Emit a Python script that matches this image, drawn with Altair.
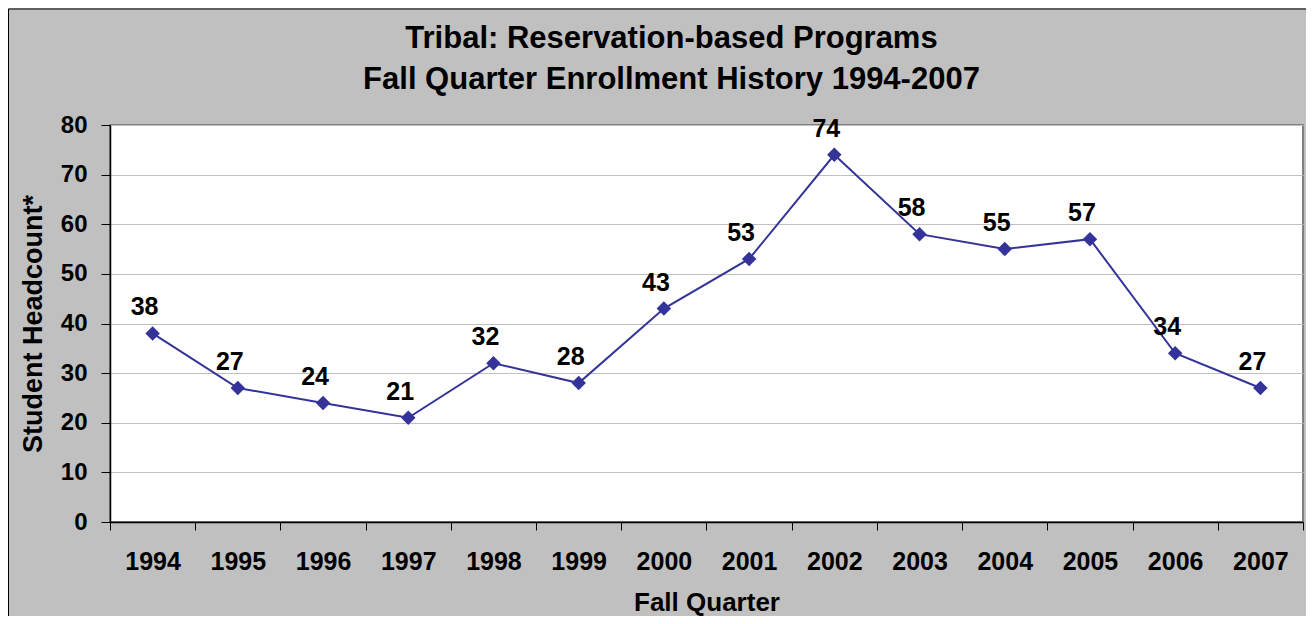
import altair as alt
import pandas as pd

years = ["1994", "1995", "1996", "1997", "1998", "1999", "2000",
         "2001", "2002", "2003", "2004", "2005", "2006", "2007"]
headcount = [38, 27, 24, 21, 32, 28, 43, 53, 74, 58, 55, 57, 34, 27]
y_ticks = [0, 10, 20, 30, 40, 50, 60, 70, 80]
title_lines = ["Tribal: Reservation-based Programs",
               "Fall Quarter Enrollment History 1994-2007"]

df = pd.DataFrame({"Year": years, "Headcount": headcount})

FONT = "Liberation Sans"
LINE_COLOR = "#333399"

base = alt.Chart(df).encode(
    x=alt.X(
        "Year:O",
        sort=years,
        scale=alt.Scale(type="band", paddingInner=0, paddingOuter=0),
        axis=alt.Axis(
            title="Fall Quarter",
            labelAngle=0,
            tickBand="extent",
            grid=False,
            tickSize=8,
            tickColor="black",
            domainColor="black",
            domainWidth=1.5,
            labelPadding=19,
            labelFontSize=25,
            titleFontSize=26,
            titlePadding=15,
        ),
    ),
    y=alt.Y(
        "Headcount:Q",
        scale=alt.Scale(domain=[0, 80], nice=False),
        axis=alt.Axis(
            title="Student Headcount*",
            values=y_ticks,
            grid=True,
            gridColor="#C0C0C0",
            gridWidth=1,
            tickSize=9,
            tickColor="black",
            domainColor="black",
            domainWidth=1.5,
            labelPadding=14,
            labelFontSize=24,
            titleFontSize=27,
            titlePadding=13,
        ),
    ),
)

line = base.mark_line(color=LINE_COLOR, strokeWidth=2)
points = base.mark_point(shape="diamond", filled=True, size=210,
                         color=LINE_COLOR, opacity=1)
labels = base.mark_text(
    dy=-18, dx=-8, baseline="alphabetic", fontSize=25, fontWeight="bold",
    font=FONT, color="black"
).encode(text="Headcount:Q")

frame_df = pd.DataFrame({"k": [0]})
frame = alt.Chart(frame_df).mark_rect(
    fillOpacity=0, stroke="black", strokeWidth=1
).encode(
    x=alt.value(-101.5), x2=alt.value(1250),
    y=alt.value(-116), y2=alt.value(600),
)

chart = alt.layer(frame, line, points, labels).properties(
    width=1193,
    height=397,
    autosize=alt.AutoSizeParams(type="none"),
    padding={"left": 102, "top": 117, "right": 3, "bottom": 94},
    background="#C0C0C0",
    title=alt.TitleParams(
        text=title_lines,
        fontSize=31,
        font=FONT,
        fontWeight="bold",
        color="black",
        anchor="middle",
        dx=-35,
        offset=-87,
        lineHeight=41,
    ),
).configure_view(
    stroke="#808080", strokeWidth=2, fill="white"
).configure_axis(
    labelFont=FONT, titleFont=FONT, labelFontWeight="bold",
    titleFontWeight="bold", labelColor="black", titleColor="black",
)

chart.save("out.html", embed_options={"renderer": "svg", "actions": False})
